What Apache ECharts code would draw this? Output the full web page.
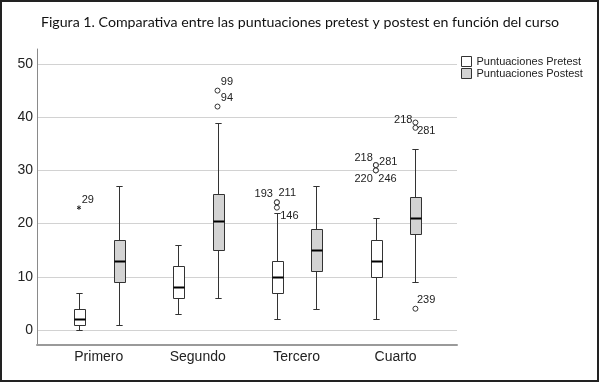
<!DOCTYPE html>
<html><head><meta charset="utf-8">
<script src="https://cdn.jsdelivr.net/npm/echarts@6/dist/echarts.min.js"></script>
<style>html,body{margin:0;padding:0;background:#fff}#c{width:600px;height:383px}</style>
</head><body><div id="c"></div>
<script>
const titleText = 'Figura 1. Comparativa entre las puntuaciones pretest y postest en función del curso';
const categories = ['Primero', 'Segundo', 'Tercero', 'Cuarto'];
const seriesNames = ['Puntuaciones Pretest', 'Puntuaciones Postest'];
// [lower whisker, Q1, median, Q3, upper whisker]
const pretest = [[0, 1, 2, 4, 7], [3, 6, 8, 12, 16], [2, 7, 10, 13, 22], [2, 10, 13, 17, 21]];
const postest = [[1, 9, 13, 17, 27], [6, 15, 20.5, 25.5, 39], [4, 11, 15, 19, 27], [9, 18, 21, 25, 34]];
const yTicks = [0, 10, 20, 30, 40, 50];
// [category index, group (0 pretest, 1 postest), value, case id, extreme]
const outliers = [
  [0, 0, 23, '29', true],
  [1, 1, 45, '99', false],
  [1, 1, 42, '94', false],
  [2, 0, 24, '193', false],
  [2, 0, 24, '211', false],
  [2, 0, 23, '146', false],
  [3, 0, 31, '218', false],
  [3, 0, 31, '281', false],
  [3, 0, 30, '220', false],
  [3, 0, 30, '246', false],
  [3, 1, 39, '218', false],
  [3, 1, 38, '281', false],
  [3, 1, 4, '239', false]
];
// label placement for each outlier: [dx, dy, align]
const labelOffsets = [
  [2.7, -7.3, 'left'],
  [3.3, -9, 'left'],
  [3.3, -8.6, 'left'],
  [-4, -8.3, 'right'],
  [1.6, -9.3, 'left'],
  [3.3, 8.4, 'left'],
  [-3, -7.6, 'right'],
  [3.2, -3, 'left'],
  [-3, 8.6, 'right'],
  [2.5, 8.6, 'left'],
  [-3, -2.8, 'right'],
  [1.7, 3, 'left'],
  [1.5, -9, 'left']
];

const GROUP_SHIFT = 0.2;
const STROKE = '#333';
const FILLS = ['#ffffff', '#d3d3d3'];

function boxRenderer(fill) {
  return function (params, api) {
    const x = api.value(0);
    const v = [1, 2, 3, 4, 5].map(i => api.value(i));
    const hw = api.size([0.06, 0])[0];
    const cw = api.size([0.032, 0])[0];
    const cx = Math.round(api.coord([x, 0])[0]) + 0.5;
    const py = val => Math.round(api.coord([x, val])[1]) + 0.5;
    const yMin = py(v[0]), yQ1 = py(v[1]), yMed = py(v[2]), yQ3 = py(v[3]), yMax = py(v[4]);
    const ls = { stroke: STROKE, lineWidth: 1 };
    const L = Math.round(cx - hw), R = Math.round(cx + hw);
    return {
      type: 'group',
      children: [
        { type: 'line', shape: { x1: cx, y1: yQ3, x2: cx, y2: yMax }, style: ls },
        { type: 'line', shape: { x1: cx, y1: yQ1, x2: cx, y2: yMin }, style: ls },
        { type: 'line', shape: { x1: cx - cw, y1: yMax, x2: cx + cw, y2: yMax }, style: ls },
        { type: 'line', shape: { x1: cx - cw, y1: yMin, x2: cx + cw, y2: yMin }, style: ls },
        { type: 'rect', shape: { x: L + 0.5, y: yQ3, width: R - L, height: yQ1 - yQ3 }, style: { fill: fill, stroke: STROKE, lineWidth: 1 } },
        { type: 'line', shape: { x1: L + 0.5, y1: yMed, x2: R + 0.5, y2: yMed }, style: { stroke: '#000', lineWidth: 2 } }
      ]
    };
  };
}

function outlierRenderer(params, api) {
  const k = api.value(2);
  const o = outliers[k];
  const off = labelOffsets[k];
  const p = api.coord([api.value(0), api.value(1)]);
  const children = [];
  if (o[4]) {
    const r = 2.2;
    for (let a = 0; a < 3; a++) {
      const ang = Math.PI / 2 + a * Math.PI / 3;
      children.push({ type: 'line', shape: { x1: p[0] - r * Math.cos(ang), y1: p[1] - r * Math.sin(ang), x2: p[0] + r * Math.cos(ang), y2: p[1] + r * Math.sin(ang) }, style: { stroke: '#222', lineWidth: 1 } });
    }
  } else {
    children.push({ type: 'circle', shape: { cx: p[0], cy: p[1], r: 2.5 }, style: { fill: '#fff', stroke: STROKE, lineWidth: 1 } });
  }
  children.push({ type: 'text', x: p[0] + off[0], y: p[1] + off[1], style: { text: o[3], fill: '#222', fontSize: 11, fontFamily: 'Liberation Sans, Arial, sans-serif', align: off[2], verticalAlign: 'middle' } });
  return { type: 'group', children: children };
}

const chart = echarts.init(document.getElementById('c'), null, { renderer: 'canvas' });
const noAxis = { axisLine: { show: false }, axisTick: { show: false }, axisLabel: { show: false }, splitLine: { show: false } };

chart.setOption({
  animation: false,
  backgroundColor: '#fff',
  title: {
    text: titleText, left: 'center', top: 10,
    textStyle: { fontFamily: 'Lato', fontWeight: 'normal', fontSize: 14.2, color: '#111' }
  },
  legend: {
    orient: 'vertical', left: 456, top: 51, itemWidth: 10, itemHeight: 10, itemGap: 1,
    icon: 'rect', selectedMode: false,
    textStyle: { fontFamily: 'Liberation Sans, Arial, sans-serif', fontSize: 11, color: '#222' },
    data: [
      { name: seriesNames[0], itemStyle: { color: FILLS[0], borderColor: STROKE, borderWidth: 1 } },
      { name: seriesNames[1], itemStyle: { color: FILLS[1], borderColor: STROKE, borderWidth: 1 } }
    ]
  },
  graphic: [{ type: 'rect', shape: { x: 1, y: 1, width: 597, height: 380 }, style: { fill: 'none', stroke: '#222', lineWidth: 2 }, z: 100 }],
  grid: [
    { left: 37, top: 64, width: 420, height: 266 },
    { left: 37, top: 49, width: 420, height: 296 },
    { left: 49.3, top: 64, width: 395.8, height: 281 }
  ],
  xAxis: [
    Object.assign({ type: 'value', gridIndex: 0, min: -0.624, max: 3.62 }, noAxis),
    { type: 'value', gridIndex: 1, min: 0, max: 1, axisLine: { show: true, onZero: false, lineStyle: { color: '#9a9a9a', width: 2 } }, axisTick: { show: false }, axisLabel: { show: false }, splitLine: { show: false } },
    { type: 'category', gridIndex: 2, data: categories, axisLine: { show: false }, axisTick: { show: false }, splitLine: { show: false },
      axisLabel: { margin: 5, fontSize: 14, color: '#222', fontFamily: 'Liberation Sans, Arial, sans-serif' } }
  ],
  yAxis: [
    { type: 'value', gridIndex: 0, min: yTicks[0], max: yTicks[yTicks.length - 1], interval: yTicks[1] - yTicks[0],
      axisLine: { show: false }, axisTick: { show: false },
      axisLabel: { margin: 4, fontSize: 14, color: '#222', fontFamily: 'Liberation Sans, Arial, sans-serif' },
      splitLine: { show: true, lineStyle: { color: '#d2d2d2', width: 1 } } },
    { type: 'value', gridIndex: 1, min: 0, max: 1, axisLine: { show: true, onZero: false, lineStyle: { color: '#8a8a8a', width: 1 } }, axisTick: { show: false }, axisLabel: { show: false }, splitLine: { show: false } },
    Object.assign({ type: 'value', gridIndex: 2 }, noAxis)
  ],
  series: [
    { type: 'custom', name: seriesNames[0], xAxisIndex: 0, yAxisIndex: 0, renderItem: boxRenderer(FILLS[0]),
      itemStyle: { color: FILLS[0] }, encode: { x: 0, y: [1, 2, 3, 4, 5] },
      data: pretest.map((b, i) => [i - GROUP_SHIFT].concat(b)) },
    { type: 'custom', name: seriesNames[1], xAxisIndex: 0, yAxisIndex: 0, renderItem: boxRenderer(FILLS[1]),
      itemStyle: { color: FILLS[1] }, encode: { x: 0, y: [1, 2, 3, 4, 5] },
      data: postest.map((b, i) => [i + GROUP_SHIFT].concat(b)) },
    { type: 'custom', name: 'outliers', xAxisIndex: 0, yAxisIndex: 0, renderItem: outlierRenderer, z: 3,
      encode: { x: 0, y: 1 },
      data: outliers.map((o, k) => [o[0] + (o[1] ? GROUP_SHIFT : -GROUP_SHIFT), o[2], k]) }
  ]
});
</script></body></html>
